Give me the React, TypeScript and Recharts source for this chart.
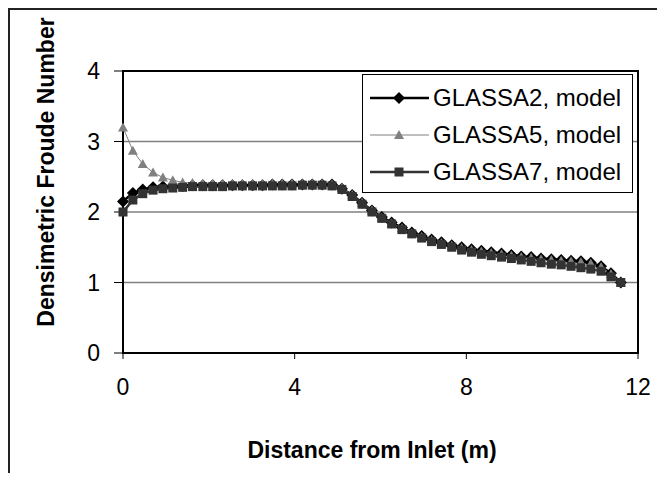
import React from 'react';
import { LineChart, Line, XAxis, YAxis, CartesianGrid, ReferenceArea, Legend } from 'recharts';

// distance from inlet (m)
const DIST = [
  0, 0.23, 0.46, 0.7, 0.93, 1.16, 1.39, 1.62, 1.86, 2.09, 2.32, 2.55, 2.78, 3.02, 3.25, 3.48, 3.71,
  3.94, 4.18, 4.41, 4.64, 4.87, 5.1, 5.34, 5.57, 5.8, 6.03, 6.26, 6.5, 6.73, 6.96, 7.19, 7.42, 7.66,
  7.89, 8.12, 8.35, 8.58, 8.82, 9.05, 9.28, 9.51, 9.74, 9.98, 10.21, 10.44, 10.67, 10.9, 11.14, 11.37, 11.6,
];

const GLASSA2 = [
  2.15, 2.27, 2.32, 2.35, 2.36, 2.37, 2.37, 2.38, 2.38, 2.38, 2.38, 2.38, 2.38, 2.38, 2.38, 2.39, 2.39,
  2.39, 2.39, 2.39, 2.39, 2.39, 2.33, 2.24, 2.13, 2.02, 1.93, 1.85, 1.78, 1.71, 1.66, 1.61, 1.57, 1.53,
  1.5, 1.47, 1.45, 1.43, 1.41, 1.39, 1.37, 1.36, 1.34, 1.33, 1.32, 1.31, 1.3, 1.28, 1.23, 1.13, 1.0,
];

const GLASSA5 = [
  3.2, 2.87, 2.68, 2.56, 2.49, 2.45, 2.42, 2.41, 2.4, 2.4, 2.4, 2.4, 2.4, 2.4, 2.4, 2.4, 2.4,
  2.4, 2.4, 2.4, 2.4, 2.39, 2.34, 2.24, 2.13, 2.02, 1.92, 1.84, 1.77, 1.7, 1.65, 1.6, 1.56, 1.52,
  1.49, 1.46, 1.44, 1.42, 1.4, 1.38, 1.36, 1.35, 1.33, 1.32, 1.31, 1.3, 1.29, 1.27, 1.22, 1.12, 1.0,
];

const GLASSA7 = [
  2.0, 2.17, 2.26, 2.31, 2.33, 2.34, 2.35, 2.36, 2.36, 2.36, 2.36, 2.37, 2.37, 2.37, 2.37, 2.37, 2.37,
  2.37, 2.38, 2.38, 2.38, 2.37, 2.32, 2.22, 2.11, 2.0, 1.91, 1.83, 1.75, 1.69, 1.63, 1.58, 1.54, 1.5,
  1.46, 1.43, 1.4, 1.38, 1.36, 1.34, 1.32, 1.3, 1.28, 1.26, 1.25, 1.23, 1.21, 1.19, 1.16, 1.08, 1.0,
];

const X_TICKS = [0, 4, 8, 12];
const Y_TICKS = [0, 1, 2, 3, 4];

const FONT = "'Liberation Sans', Arial, sans-serif";

type Shape = 'diamond' | 'triangle' | 'square';

const SERIES: { key: string; name: string; color: string; width: number; shape: Shape }[] = [
  { key: 'g2', name: 'GLASSA2, model', color: '#000000', width: 2.5, shape: 'diamond' },
  { key: 'g5', name: 'GLASSA5, model', color: '#808080', width: 1, shape: 'triangle' },
  { key: 'g7', name: 'GLASSA7, model', color: '#333333', width: 2.5, shape: 'square' },
];

const data = DIST.map((d, i) => ({ x: d, g2: GLASSA2[i], g5: GLASSA5[i], g7: GLASSA7[i] }));

const Marker = ({ cx, cy, shape, color }: { cx: number; cy: number; shape: Shape; color: string }) => {
  if (cx == null || cy == null) return null;
  if (shape === 'diamond') {
    return <polygon points={`${cx},${cy - 6} ${cx + 6},${cy} ${cx},${cy + 6} ${cx - 6},${cy}`} fill={color} />;
  }
  if (shape === 'triangle') {
    return <polygon points={`${cx},${cy - 5} ${cx + 5},${cy + 4} ${cx - 5},${cy + 4}`} fill={color} />;
  }
  return <rect x={cx - 4.5} y={cy - 4.5} width={9} height={9} fill={color} />;
};

const LegendBox = () => (
  <div
    style={{
      border: '1px solid #000',
      background: '#fff',
      width: 269,
      height: 113,
      paddingTop: 4,
      boxSizing: 'content-box',
    }}
  >
    {SERIES.map((s) => (
      <div key={s.key} style={{ height: 37, display: 'flex', alignItems: 'center' }}>
        <svg width={70} height={20} style={{ display: 'block', flex: 'none' }}>
          <line x1={7} y1={10} x2={66} y2={10} stroke={s.color} strokeWidth={s.width} />
          <Marker cx={36} cy={10} shape={s.shape} color={s.color} />
        </svg>
        <span style={{ fontFamily: FONT, fontSize: 24, color: '#000', whiteSpace: 'nowrap' }}>{s.name}</span>
      </div>
    ))}
  </div>
);

// axis titles placed like the original Excel layout (not centred on the plot)
const YTitle = () => (
  <text
    x={36}
    y={162}
    transform="rotate(-90 36 162)"
    textAnchor="middle"
    dominantBaseline="central"
    style={{ fill: '#000', fontSize: 23, fontWeight: 700, fontFamily: FONT }}
  >
    Densimetric Froude Number
  </text>
);

const XTitle = () => (
  <text
    x={362}
    y={448}
    textAnchor="middle"
    style={{ fill: '#000', fontSize: 23, fontWeight: 700, fontFamily: FONT }}
  >
    Distance from Inlet (m)
  </text>
);

export default function App() {
  return (
    <div
      style={{
        width: 649,
        height: 465,
        borderTop: '2px solid #222',
        borderLeft: '2px solid #222',
        boxSizing: 'border-box',
        position: 'relative',
        background: '#fff',
      }}
    >
      <LineChart
        width={647}
        height={463}
        data={data}
        margin={{ top: 61, right: 19, left: 0, bottom: 0 }}
      >
        <CartesianGrid horizontal vertical={false} stroke="#808080" strokeWidth={1.5} />
        <XAxis
          dataKey="x"
          type="number"
          domain={[0, 12]}
          ticks={X_TICKS}
          height={120}
          axisLine={{ stroke: '#000', strokeWidth: 2 }}
          tickLine={{ stroke: '#000', strokeWidth: 1 }}
          tickSize={6}
          tickMargin={20}
          tick={{ fill: '#000', fontSize: 23, fontFamily: FONT }}
          label={{ content: () => <XTitle /> }}
        />
        <YAxis
          type="number"
          domain={[0, 4]}
          ticks={Y_TICKS}
          width={113}
          axisLine={{ stroke: '#000', strokeWidth: 2 }}
          tickLine={{ stroke: '#000', strokeWidth: 1 }}
          tickSize={9}
          tickMargin={14}
          tick={{ fill: '#000', fontSize: 23, fontFamily: FONT }}
          label={{ content: () => <YTitle /> }}
        />
        <ReferenceArea x1={0} x2={12} y1={0} y2={4} fill="none" stroke="#000" strokeWidth={2} />
        {SERIES.map((s) => (
          <Line
            key={s.key}
            dataKey={s.key}
            name={s.name}
            type="linear"
            stroke={s.color}
            strokeWidth={s.width}
            dot={(p: any) => <Marker key={`${s.key}-${p.index}`} cx={p.cx} cy={p.cy} shape={s.shape} color={s.color} />}
            activeDot={false}
            isAnimationActive={false}
          />
        ))}
        <Legend
          layout="horizontal"
          verticalAlign="middle"
          align="center"
          content={<LegendBox />}
          wrapperStyle={{ position: 'absolute', left: 352, top: 64, width: 271, height: 119 }}
        />
      </LineChart>
    </div>
  );
}
